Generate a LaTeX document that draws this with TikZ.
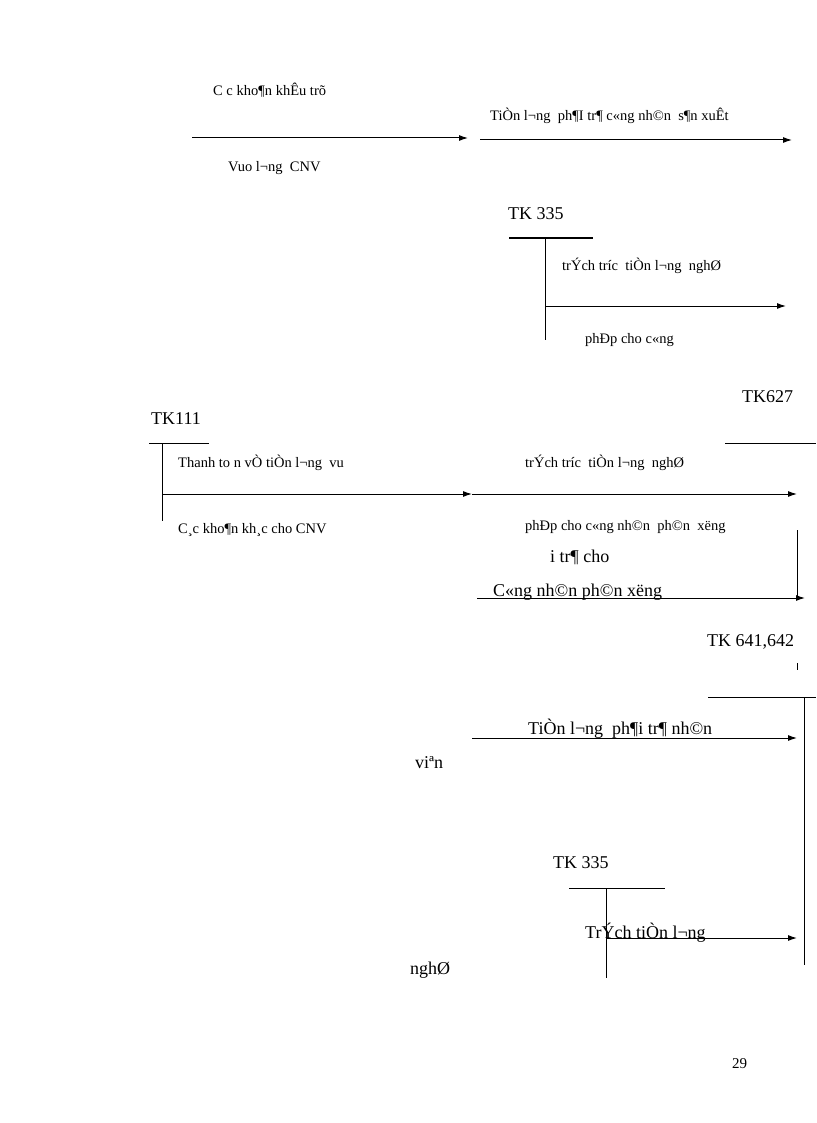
\documentclass[tikz,border=0pt]{standalone}
\usepackage{fontspec}
\setmainfont{Liberation Serif}
\usetikzlibrary{arrows.meta}
\begin{document}
\begin{tikzpicture}[x=1pt,y=-1pt,
  sm/.style={anchor=base west,inner sep=0pt,font=\fontsize{14.5}{16}\selectfont},
  bg/.style={anchor=base west,inner sep=0pt,font=\fontsize{18}{20}\selectfont},
  ln/.style={line width=1pt},
  ar/.style={line width=1pt,-{Latex[length=9pt,width=6pt]}}]
\useasboundingbox (0,0) rectangle (816,1123);
% top
\node[sm] (t1) at (213,96) {C c kho¶n khÊu trõ};
\coordinate (a1) at (192,138); \coordinate (a2) at (468,138);
\draw[ar] (a1) -- (a2);
\node[sm] (t2) at (228,172) {Vuo l¬ng\ \ CNV};
\node[sm] (t3) at (490,121) {TiÒn l¬ng\ \ ph¶I tr¶ c«ng nh©n\ \ s¶n xuÊt};
\coordinate (a3) at (480,140); \coordinate (a4) at (792,140);
\draw[ar] (a3) -- (a4);
% TK335 top
\node[bg] (k1) at (508,219) {TK 335};
\coordinate (h1) at (509,238); \coordinate (h2) at (593,238);
\coordinate (v1) at (545,238); \coordinate (v2) at (545,340);
\draw[ln] (h1) -- (h2); \draw[ln] (v1) -- (v2);
\node[sm] (t4) at (562,270) {trÝch tríc\ \ tiÒn l¬ng\ \ nghØ};
\coordinate (a5) at (545,306); \coordinate (a6) at (786,306);
\draw[ar] (a5) -- (a6);
\node[sm] (t5) at (585,343) {phÐp cho c«ng};
% TK627 / TK111
\node[bg] (k2) at (742,402) {TK627};
\coordinate (h3) at (725,443); \coordinate (h4) at (816,443);
\draw[ln] (h3) -- (h4);
\node[bg] (k3) at (151,424) {TK111};
\coordinate (h5) at (149,443); \coordinate (h6) at (209,443);
\coordinate (v3) at (162,443); \coordinate (v4) at (162,521);
\draw[ln] (h5) -- (h6); \draw[ln] (v3) -- (v4);
\node[sm] (t6) at (178,467) {Thanh to n vÒ tiÒn l¬ng\ \ vu};
\coordinate (a7) at (162,494); \coordinate (a8) at (472,494); \coordinate (a9) at (797,494);
\draw[ar] (a7) -- (a8); \draw[ar] (a8) -- (a9);
\node[sm] (t7) at (525,467) {trÝch tríc\ \ tiÒn l¬ng\ \ nghØ};
\node[sm] (t8) at (178,533) {C¸c kho¶n kh¸c cho CNV};
\node[sm] (t9) at (525,530) {phÐp cho c«ng nh©n\ \ ph©n\ \ xëng};
\coordinate (v5) at (797,530); \coordinate (v6) at (797,600);
\draw[ln] (v5) -- (v6);
\node[bg] (t10) at (550,562) {i tr¶ cho};
\node[bg] (t11) at (493,596) {C«ng nh©n ph©n xëng};
\coordinate (b1) at (477,598); \coordinate (b2) at (805,598);
\draw[ar] (b1) -- (b2);
% TK641
\node[bg] (k4) at (707,646) {TK 641,642};
\coordinate (s1) at (797,663); \coordinate (s2) at (797,670);
\draw[ln] (s1) -- (s2);
\coordinate (h7) at (708,697); \coordinate (h8) at (816,697);
\coordinate (v7) at (804,697); \coordinate (v8) at (804,965);
\draw[ln] (h7) -- (h8); \draw[ln] (v7) -- (v8);
\node[bg] (t12) at (528,734) {TiÒn l¬ng\ \ ph¶i tr¶ nh©n};
\coordinate (b3) at (472,738); \coordinate (b4) at (797,738);
\draw[ar] (b3) -- (b4);
\node[bg] (t13) at (415,768) {viªn};
% TK335 bottom
\node[bg] (k5) at (553,868) {TK 335};
\coordinate (h9) at (569,888); \coordinate (h10) at (665,888);
\coordinate (v9) at (606,888); \coordinate (v10) at (606,978);
\draw[ln] (h9) -- (h10); \draw[ln] (v9) -- (v10);
\node[bg] (t14) at (585,938) {TrÝch tiÒn l¬ng};
\coordinate (b5) at (606,938); \coordinate (b6) at (797,938);
\draw[ar] (b5) -- (b6);
\node[bg] (t15) at (410,974) {nghØ};
\node[sm,font=\fontsize{15}{17}\selectfont] (pg) at (732,1068) {29};
\end{tikzpicture}
\end{document}
